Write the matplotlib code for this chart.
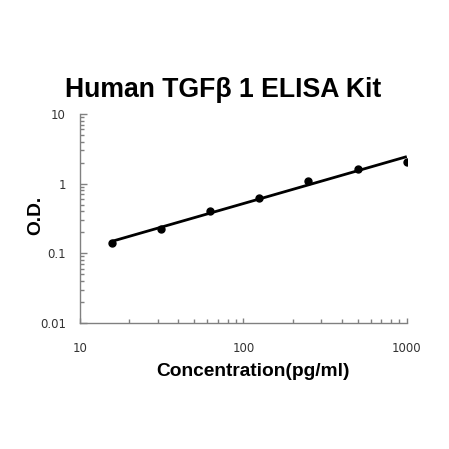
import numpy as np
import matplotlib
matplotlib.use("Agg")
import matplotlib.pyplot as plt
from matplotlib.ticker import LogLocator, FixedLocator, NullFormatter

conc = [15.625, 31.25, 62.5, 125, 250, 500, 1000]
od = [0.139, 0.220, 0.408, 0.621, 1.08, 1.64, 2.07]
x_ticks = [10, 100, 1000]
x_tick_labels = ["10", "100", "1000"]
y_ticks = [0.01, 0.1, 1, 10]
y_tick_labels = ["0.01", "0.1", "1", "10"]
title = "Human TGFβ 1 ELISA Kit"
xlabel = "Concentration(pg/ml)"
ylabel = "O.D."

fig = plt.figure(figsize=(4.49, 4.49), dpi=100)
ax = fig.add_axes([0.178, 0.281, 0.728, 0.465])

# power-law fit in log space
p = np.polyfit(np.log10(conc), np.log10(od), 1)
xf = np.array([conc[0], conc[-1]])
yf = 10 ** np.polyval(p, np.log10(xf))
ax.plot(xf, yf, color="black", lw=2, solid_capstyle="butt")
ax.plot(conc, od, "o", color="black", ms=5)

ax.set_xscale("log")
ax.set_yscale("log")
ax.set_xlim(10, 1000)
ax.set_ylim(0.01, 10)

ax.xaxis.set_major_locator(FixedLocator(x_ticks))
ax.set_xticklabels(x_tick_labels)
ax.yaxis.set_major_locator(FixedLocator(y_ticks))
ax.set_yticklabels(y_tick_labels)
ax.xaxis.set_minor_locator(LogLocator(base=10, subs=np.arange(2, 10)))
ax.yaxis.set_minor_locator(LogLocator(base=10, subs=np.arange(2, 10)))
ax.xaxis.set_minor_formatter(NullFormatter())
ax.yaxis.set_minor_formatter(NullFormatter())

spine_col = "#808080"
for s in ["top", "right"]:
    ax.spines[s].set_visible(False)
for s in ["left", "bottom"]:
    ax.spines[s].set_color(spine_col)
    ax.spines[s].set_linewidth(1)

ax.tick_params(which="both", direction="in", color=spine_col, width=1)
ax.tick_params(axis="y", which="major", length=5)
ax.tick_params(axis="x", which="major", length=3.5)
ax.tick_params(which="minor", length=3)
ax.tick_params(axis="x", which="major", pad=13.5, labelsize=8.5, labelcolor="#333333")
ax.tick_params(axis="y", which="major", pad=10, labelsize=8.5, labelcolor="#333333")
for lab in ax.get_xticklabels() + ax.get_yticklabels():
    lab.set_family("DejaVu Sans")

fig.text(0.497, 0.80, title, ha="center", va="center", fontsize=19.2,
         fontweight="bold", family="Liberation Sans")
fig.text(0.563, 0.172, xlabel, ha="center", va="center", fontsize=13.8,
         fontweight="bold", family="Liberation Sans")
fig.text(0.079, 0.521, ylabel, ha="center", va="center", rotation=90,
         fontsize=13.8, fontweight="bold", family="Liberation Sans")

fig.savefig("out.png", dpi=100)
